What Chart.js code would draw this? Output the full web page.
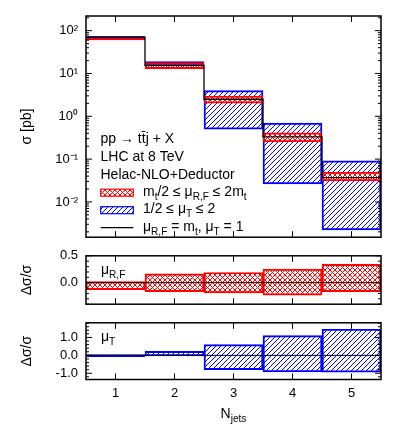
<!DOCTYPE html>
<html lang="en">
<head>
<meta charset="UTF-8">
<title>ttj jet multiplicity</title>
<script src="https://cdn.jsdelivr.net/npm/chart.js"></script>
<style>
  body { margin: 0; background: #fff; }
  #wrap { position: relative; width: 407px; height: 440px; }
  canvas { position: absolute; left: 0; }
</style>
</head>
<body>
<div id="wrap">
  <canvas id="xsec" width="407" height="253" style="top:0px"></canvas>
  <canvas id="ratioRF" width="407" height="80" style="top:240px"></canvas>
  <canvas id="ratioT" width="407" height="133" style="top:307px"></canvas>
</div>
<script>
// jet multiplicity bins
const nJets = [1, 2, 3, 4, 5];
// central cross section [pb] (mu_RF = m_t, mu_T = 1)
const sigma = [70, 15.5, 2.5, 0.33, 0.037];
// relative variation, m_t/2 <= mu_RF <= 2 m_t
const rfUp   = [0.02, 0.165, 0.19, 0.25, 0.34];
const rfDown = [-0.13, -0.165, -0.19, -0.23, -0.165];
// relative variation, 1/2 <= mu_T <= 2
const tUp    = [0.05, 0.22, 0.6, 1.1, 1.46];
const tDown  = [-0.07, -0.03, -0.8, -0.92, -0.94];

// labelled ticks
const sigmaTicks = [1e-2, 1e-1, 1, 10, 100];
const sigmaTickLabels = ['10\u207B\u00B2', '10\u207B\u00B9', '10\u2070', '10\u00B9', '10\u00B2'];
const rfTicks = [0, 0.5];
const rfTickLabels = ['0.0', '0.5'];
const tTicks = [-1, 0, 1];
const tTickLabels = ['-1.0', '0.0', '1.0'];

const infoLines = ['pp \u2192 tt\u0304j + X', 'LHC at 8 TeV', 'Helac-NLO+Deductor'];

const FONT = '"Liberation Sans", Arial, Helvetica, sans-serif';
Chart.defaults.font.family = FONT;
Chart.defaults.color = '#000';

const RED = '#ff0000', BLUE = '#0000ff';

function makePattern(color, cross) {
    const s = 5;
    const c = document.createElement('canvas');
    c.width = c.height = s;
    const g = c.getContext('2d');
    g.strokeStyle = color;
    g.lineWidth = 1;
    g.beginPath();
    g.moveTo(-1, s + 1); g.lineTo(s + 1, -1);
    g.moveTo(-1, 1); g.lineTo(1, -1);
    g.moveTo(s - 1, s + 1); g.lineTo(s + 1, s - 1);
    if (cross) {
        g.moveTo(-1, -1); g.lineTo(s + 1, s + 1);
        g.moveTo(s - 1, -1); g.lineTo(s + 1, 1);
        g.moveTo(-1, s - 1); g.lineTo(1, s + 1);
    }
    g.stroke();
    return g.createPattern(c, 'repeat');
}
const redHatch = makePattern(RED, true);
const blueHatch = makePattern(BLUE, false);

const edges = nJets.map(n => n - 0.5).concat(nJets[nJets.length - 1] + 0.5);

function band(centre, up, down) {
    return nJets.map((n, i) => ({ x: n, y: [centre[i] * (1 + down[i]), centre[i] * (1 + up[i])] }));
}
function ratioBand(up, down) {
    return nJets.map((n, i) => ({ x: n, y: [down[i], up[i]] }));
}

function bandSet(data, fill, border, order) {
    return {
        type: 'bar', data: data, backgroundColor: fill, borderColor: border,
        borderWidth: 1.3, borderSkipped: false, grouped: false,
        barPercentage: 1, categoryPercentage: 1, order: order
    };
}

function drawRich(ctx, x, y, parts, size) {
    parts.forEach(p => {
        const sub = p[1];
        ctx.font = (sub ? size * 0.72 : size) + 'px ' + FONT;
        ctx.fillText(p[0], x, sub ? y + size * 0.3 : y);
        x += ctx.measureText(p[0]).width;
    });
}

function xScale(show) {
    const s = {
        type: 'linear', min: 0.5, max: 5.5, offset: false, display: show,
        grid: { display: false, drawTicks: false }, border: { display: false },
        afterBuildTicks: sc => { sc.ticks = nJets.map(v => ({ value: v })); },
        ticks: { font: { size: 13 }, color: '#000', padding: 6, autoSkip: false, maxRotation: 0,
                 callback: v => String(v) }
    };
    if (show) s.afterFit = sc => { sc.height = 24; };
    return s;
}

function yScale(type, min, max, step, title, tickVals, tickLabels) {
    return {
        type: type, min: min, max: max,
        grid: { display: false, drawTicks: false }, border: { display: false },
        afterBuildTicks: s => {
            const vals = [];
            if (type === 'logarithmic') {
                for (let e = Math.floor(Math.log10(min)); e <= Math.ceil(Math.log10(max)); e++) {
                    for (let m = 1; m <= 9; m++) {
                        const v = m * Math.pow(10, e);
                        if (v >= min && v <= max) vals.push(v);
                    }
                }
            } else {
                for (let k = Math.ceil(min / step - 1e-9); k <= Math.floor(max / step + 1e-9); k++) {
                    vals.push(Math.round(k * step * 1e6) / 1e6);
                }
            }
            s.ticks = vals.map(v => ({ value: v }));
        },
        afterFit: s => { s.width = 86; },
        ticks: {
            font: { size: 13 }, color: '#000', padding: 8, autoSkip: false,
            callback: v => {
                const i = tickVals.findIndex(t => Math.abs(t - v) <= 1e-6 * Math.max(1, Math.abs(t)));
                return i < 0 ? '' : tickLabels[i];
            }
        },
        title: { display: true, text: title, font: { size: 14 }, color: '#000', padding: { top: 19, bottom: 0 } }
    };
}

// box round the panel, inward ticks on all sides, zero line in ratio panels
const framePlugin = {
    id: 'frame',
    afterDatasetsDraw(chart) {
        const { ctx, chartArea: a } = chart;
        const x = chart.scales.x, y = chart.scales.y;
        ctx.save();
        ctx.strokeStyle = '#000';
        ctx.lineWidth = 1;
        ctx.beginPath();
        if (y.min < 0 && y.max > 0) {
            const p0 = y.getPixelForValue(0);
            ctx.moveTo(a.left, p0); ctx.lineTo(a.right, p0);
        }
        x.ticks.forEach(t => {
            const px = x.getPixelForValue(t.value);
            ctx.moveTo(px, a.bottom); ctx.lineTo(px, a.bottom - 6);
            ctx.moveTo(px, a.top); ctx.lineTo(px, a.top + 6);
        });
        y.ticks.forEach(t => {
            const py = y.getPixelForValue(t.value);
            const len = t.label ? 6 : 3;
            ctx.moveTo(a.left, py); ctx.lineTo(a.left + len, py);
            ctx.moveTo(a.right, py); ctx.lineTo(a.right - len, py);
        });
        ctx.stroke();
        ctx.lineWidth = 1.5;
        ctx.strokeRect(a.left, a.top, a.right - a.left, a.bottom - a.top);
        ctx.restore();
    }
};
Chart.register(framePlugin);

const common = {
    responsive: false,
    animation: false,
    events: [],
    plugins: { legend: { display: false }, tooltip: { enabled: false } }
};

// ---- top panel: cross section
const stepLine = edges.map((e, i) => ({ x: e, y: sigma[Math.min(i, sigma.length - 1)] }));

new Chart(document.getElementById('xsec'), {
    type: 'bar',
    data: {
        datasets: [
            { type: 'line', data: stepLine, borderColor: '#000', borderWidth: 1.3,
              pointRadius: 0, stepped: 'before', order: 0 },
            bandSet(band(sigma, rfUp, rfDown), redHatch, RED, 1),
            bandSet(band(sigma, tUp, tDown), blueHatch, BLUE, 2)
        ]
    },
    options: Object.assign({}, common, {
        layout: { padding: { top: 16, right: 26, bottom: 8, left: 0 } },
        scales: {
            x: xScale(false),
            y: yScale('logarithmic', 0.0015, 220, null, '\u03C3 [pb]', sigmaTicks, sigmaTickLabels)
        }
    }),
    plugins: [{
        id: 'notes',
        afterDraw(chart) {
            const { ctx, chartArea: a } = chart;
            ctx.save();
            ctx.fillStyle = '#000';
            ctx.textAlign = 'left';
            ctx.textBaseline = 'alphabetic';
            const x0 = a.left + 14.5;
            infoLines.forEach((t, i) => drawRich(ctx, x0, a.top + 126.5 + 18 * i, [[t]], 14));

            const rows = [
                { fill: redHatch, stroke: RED, parts: [['m'], ['t', 1], ['/2 \u2264 \u03BC'], ['R,F', 1], [' \u2264 2m'], ['t', 1]] },
                { fill: blueHatch, stroke: BLUE, parts: [['1/2 \u2264 \u03BC'], ['T', 1], [' \u2264 2']] },
                { line: true, parts: [['\u03BC'], ['R,F', 1], [' = m'], ['t', 1], [', \u03BC'], ['T', 1], [' = 1']] }
            ];
            rows.forEach((r, i) => {
                const cy = a.top + 176.7 + 17.5 * i;
                const sx = a.left + 14.7, sw = 32.6;
                if (r.line) {
                    ctx.strokeStyle = '#000'; ctx.lineWidth = 1.3;
                    ctx.beginPath(); ctx.moveTo(sx, cy); ctx.lineTo(sx + sw, cy); ctx.stroke();
                } else {
                    ctx.fillStyle = r.fill;
                    ctx.fillRect(sx, cy - 3.5, sw, 7);
                    ctx.strokeStyle = r.stroke; ctx.lineWidth = 1.2;
                    ctx.strokeRect(sx, cy - 3.5, sw, 7);
                }
                ctx.fillStyle = '#000';
                drawRich(ctx, a.left + 57, cy + 3, r.parts, 14);
            });
            ctx.restore();
        }
    }]
});

// ---- middle panel: mu_RF variation
new Chart(document.getElementById('ratioRF'), {
    type: 'bar',
    data: { datasets: [bandSet(ratioBand(rfUp, rfDown), redHatch, RED, 1)] },
    options: Object.assign({}, common, {
        layout: { padding: { top: 10, right: 26, bottom: 8, left: 0 } },
        scales: {
            x: xScale(false),
            y: yScale('linear', -0.4, 0.5, 0.1, '\u0394\u03C3/\u03C3', rfTicks, rfTickLabels)
        }
    }),
    plugins: [{
        id: 'notes',
        afterDraw(chart) {
            const { ctx, chartArea: a } = chart;
            ctx.save(); ctx.fillStyle = '#000'; ctx.textAlign = 'left';
            drawRich(ctx, a.left + 15, a.top + 18, [['\u03BC'], ['R,F', 1]], 14);
            ctx.restore();
        }
    }]
});

// ---- bottom panel: mu_T variation
new Chart(document.getElementById('ratioT'), {
    type: 'bar',
    data: { datasets: [bandSet(ratioBand(tUp, tDown), blueHatch, BLUE, 1)] },
    options: Object.assign({}, common, {
        layout: { padding: { top: 10, right: 26, bottom: 36.5, left: 0 } },
        scales: {
            x: xScale(true),
            y: yScale('linear', -1.35, 1.82, 0.2, '\u0394\u03C3/\u03C3', tTicks, tTickLabels)
        }
    }),
    plugins: [{
        id: 'notes',
        afterDraw(chart) {
            const { ctx, chartArea: a } = chart;
            ctx.save(); ctx.fillStyle = '#000'; ctx.textAlign = 'left';
            drawRich(ctx, a.left + 15, a.top + 18, [['\u03BC'], ['T', 1]], 14);
            // x axis title N_jets, centred under the panel
            ctx.font = '14px ' + FONT;
            const wN = ctx.measureText('N').width;
            ctx.font = (14 * 0.72) + 'px ' + FONT;
            const wJ = ctx.measureText('jets').width;
            drawRich(ctx, (a.left + a.right) / 2 - (wN + wJ) / 2, a.bottom + 38, [['N'], ['jets', 1]], 14);
            ctx.restore();
        }
    }]
});
</script>
</body>
</html>
